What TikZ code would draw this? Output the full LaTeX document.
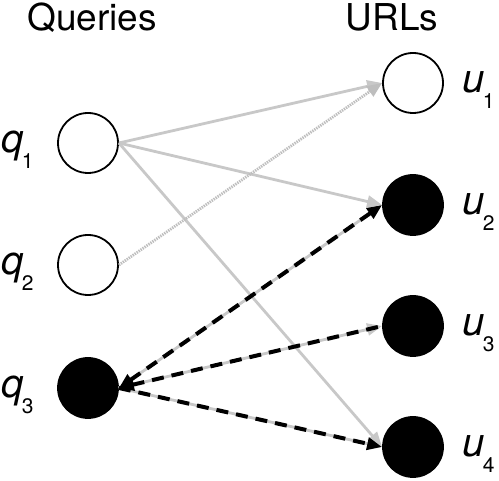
\documentclass[tikz,border=0pt]{standalone}
\usepackage{fontspec}
\setmainfont{TeX Gyre Heros}
\usetikzlibrary{arrows.meta}
\definecolor{lgray}{RGB}{200,200,200}
\newcommand{\lbl}[2]{{\fontsize{40}{40}\selectfont\itshape #1}\kern-1.5pt\raisebox{-16pt}{\fontsize{21}{21}\selectfont #2}}
\begin{document}
\begin{tikzpicture}[x=1pt,y=1pt,
  opennode/.style={circle,draw=black,line width=1.8pt,fill=white,minimum size=60pt,inner sep=0pt},
  fullnode/.style={circle,draw=black,line width=1.8pt,fill=black,minimum size=60pt,inner sep=0pt},
  grayarrow/.style={draw=lgray,line width=2.8pt,-{Triangle[length=15pt,width=12pt]}},
  dotarrow/.style={draw=lgray!95!black,line width=2.8pt,dash pattern=on 1.4pt off 1pt,-{Triangle[length=15pt,width=12pt]}},
  blackdash/.style={draw=black,line width=4pt,dash pattern=on 12pt off 8pt},
  head/.style={font=\fontsize{37}{37}\selectfont,anchor=base},
  lab/.style={anchor=base west,inner sep=0pt}
]
\useasboundingbox (0,0) rectangle (499,481);
\node[head] (hq) at (92,450) {Queries};
\node[head] (hu) at (392,450) {URLs};

\node[opennode] (q1) at (88,338) {};
\node[opennode] (q2) at (88,216) {};
\node[fullnode] (q3) at (88,93) {};
\node[opennode] (u1) at (413,398) {};
\node[fullnode] (u2) at (413,276) {};
\node[fullnode] (u3) at (413,155) {};
\node[fullnode] (u4) at (413,34) {};

\node[lab] (lq1) at (1,328) {\lbl{q}{1}};
\node[lab] (lq2) at (1,206) {\lbl{q}{2}};
\node[lab] (lq3) at (1,83) {\lbl{q}{3}};
\node[lab] (lu1) at (462,388) {\lbl{u}{1}};
\node[lab] (lu2) at (462,266) {\lbl{u}{2}};
\node[lab] (lu3) at (462,145) {\lbl{u}{3}};
\node[lab] (lu4) at (462,24) {\lbl{u}{4}};

\draw[grayarrow] (q1.east) -- (u1.west);
\draw[grayarrow] (q1.east) -- (u2.west);
\draw[grayarrow] (q1.east) -- (u4.west);
\draw[dotarrow] (q2.east) -- (u1.west);
\draw[grayarrow] (q3.east) -- (u2.west);
\draw[grayarrow] (q3.east) -- (u3.west);
\draw[grayarrow] (q3.east) -- (u4.west);

\draw[blackdash,{Triangle[length=15pt,width=12pt]}-{Triangle[length=15pt,width=12pt]}] (q3.east) -- (u2.west);
\draw[blackdash,{Triangle[length=15pt,width=12pt]}-] (q3.east) -- (u3.west);
\draw[blackdash,-{Triangle[length=15pt,width=12pt]}] (q3.east) -- (u4.west);
\end{tikzpicture}
\end{document}
